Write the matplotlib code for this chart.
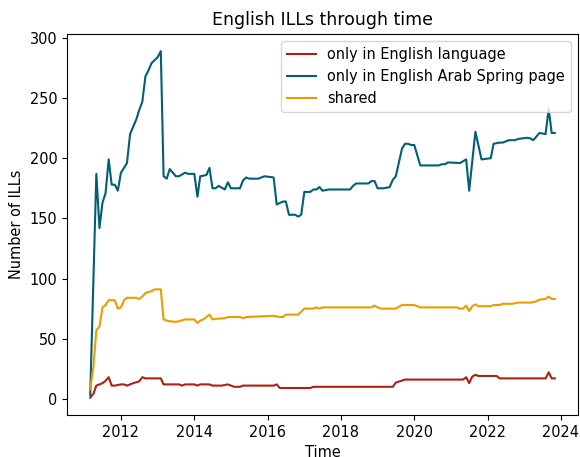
import matplotlib
matplotlib.use("Agg")
import matplotlib.pyplot as plt
import pandas as pd

# ILL counts (month, value)
only_en_dates = ["2011-03", "2011-04", "2011-05", "2011-06", "2011-07", "2011-08", "2011-09",
                 "2011-10", "2011-11", "2012-01", "2012-02", "2012-03", "2012-04", "2012-05",
                 "2012-07", "2012-08", "2012-09", "2013-02", "2013-03", "2013-08", "2013-09",
                 "2013-10", "2014-01", "2014-02", "2014-03", "2014-06", "2014-07", "2014-10",
                 "2014-12", "2015-02", "2015-04", "2015-05", "2016-03", "2016-04", "2016-05",
                 "2017-03", "2017-04", "2019-06", "2019-07", "2019-10", "2021-05", "2021-06",
                 "2021-07", "2021-08", "2021-09", "2021-10", "2022-04", "2022-05", "2023-08",
                 "2023-09", "2023-10", "2023-11"]
only_en = [1, 4, 11, 12, 13, 15, 18,
           11, 11, 12, 12, 11, 12, 13,
           14.5, 18, 17, 17, 12, 12, 11,
           12, 12, 11, 12, 12, 11, 11,
           12, 10, 10, 11, 11, 12, 9,
           9, 10, 10, 13.5, 16, 16, 18,
           13, 18.5, 20, 19, 19, 17, 17,
           22, 17, 17]

only_arab_dates = ["2011-03", "2011-05", "2011-06", "2011-07", "2011-08", "2011-09", "2011-10",
                   "2011-11", "2011-12", "2012-01", "2012-02", "2012-03", "2012-04", "2012-05",
                   "2012-06", "2012-07", "2012-08", "2012-09", "2012-10", "2012-11", "2013-01",
                   "2013-02", "2013-03", "2013-04", "2013-05", "2013-07", "2013-08", "2013-10",
                   "2013-11", "2014-01", "2014-02", "2014-03", "2014-05", "2014-06", "2014-07",
                   "2014-08", "2014-09", "2014-11", "2014-12", "2015-01", "2015-03", "2015-04",
                   "2015-05", "2015-06", "2015-07", "2015-10", "2015-12", "2016-03", "2016-04",
                   "2016-06", "2016-07", "2016-08", "2016-10", "2016-11", "2016-12", "2017-01",
                   "2017-03", "2017-04", "2017-05", "2017-06", "2017-07", "2017-09", "2018-04",
                   "2018-05", "2018-06", "2018-10", "2018-11", "2018-12", "2019-01", "2019-03",
                   "2019-05", "2019-06", "2019-07", "2019-09", "2019-10", "2019-11", "2019-12",
                   "2020-01", "2020-03", "2020-09", "2020-10", "2020-11", "2020-12", "2021-04",
                   "2021-06", "2021-07", "2021-09", "2021-11", "2022-02", "2022-03", "2022-05",
                   "2022-06", "2022-08", "2022-10", "2022-11", "2023-02", "2023-03", "2023-04",
                   "2023-06", "2023-08", "2023-09", "2023-10", "2023-11"]
only_arab = [3, 187, 142, 163, 171, 199, 178,
             178, 173, 188, 192, 196, 220, 226,
             232, 240, 247, 268, 273, 279, 284,
             289, 185, 183, 191, 185, 185, 188,
             187, 187, 168, 185, 186, 192, 175,
             175, 177, 174, 180, 175, 175, 175,
             181.5, 184, 183, 183, 185, 184, 161.5,
             164, 164, 153, 153, 151.5, 153, 172,
             172, 174, 174, 176, 173, 174, 174,
             177, 179, 179, 181, 181, 175, 175,
             176, 182, 185, 208, 212, 212, 211,
             211, 194, 194, 195, 195, 196.5, 196,
             199, 173, 222, 199, 200, 212, 213,
             213, 215, 215, 216, 217, 216.5, 215,
             221, 220, 241, 221, 221]

shared_dates = ["2011-03", "2011-04", "2011-05", "2011-06", "2011-07", "2011-08", "2011-09",
                "2011-10", "2011-11", "2011-12", "2012-01", "2012-02", "2012-03", "2012-06",
                "2012-07", "2012-08", "2012-09", "2012-11", "2012-12", "2013-02", "2013-03",
                "2013-04", "2013-05", "2013-07", "2013-08", "2013-10", "2014-01", "2014-02",
                "2014-03", "2014-04", "2014-06", "2014-07", "2014-08", "2014-11", "2014-12",
                "2015-04", "2015-05", "2015-06", "2016-03", "2016-05", "2016-06", "2016-07",
                "2016-11", "2017-01", "2017-04", "2017-05", "2017-06", "2017-07", "2018-11",
                "2018-12", "2019-01", "2019-02", "2019-07", "2019-09", "2020-01", "2020-03",
                "2021-03", "2021-04", "2021-05", "2021-06", "2021-07", "2021-08", "2021-09",
                "2021-10", "2022-02", "2022-03", "2022-05", "2022-06", "2022-09", "2022-11",
                "2023-03", "2023-05", "2023-06", "2023-08", "2023-09", "2023-10", "2023-11"]
shared = [8, 26, 57, 60, 76, 78, 82,
          82, 82, 75, 76, 82, 84, 84,
          83, 85, 88, 89.5, 91, 91, 66,
          65, 64.5, 64, 64.5, 66, 66, 63,
          65, 66, 70, 66, 66.5, 67, 68,
          68, 67, 68, 69, 68, 68, 70,
          70, 75, 75, 76, 75, 76, 76,
          77.5, 76, 75, 75, 78, 78, 76,
          76, 75, 75, 77.5, 73, 77, 78.5,
          77, 77, 78, 78, 79, 79, 80,
          80, 81, 82.5, 83, 85, 83, 83]

plt.rcParams['font.size'] = 10.45

fig, ax = plt.subplots(figsize=(5.8, 4.57), dpi=100)
ax.plot(pd.to_datetime(only_en_dates), only_en, color='#ae2012', label='only in English language')
ax.plot(pd.to_datetime(only_arab_dates), only_arab, color='#005f73', label='only in English Arab Spring page')
ax.plot(pd.to_datetime(shared_dates), shared, color='#ee9b00', label='shared')

ax.set_title('English ILLs through time')
ax.set_xlabel('Time')
ax.set_ylabel('Number of ILLs')
ax.legend(loc='upper right')

fig.subplots_adjust(left=0.1155, right=0.9966, top=0.926, bottom=0.092)
fig.savefig('out.png')
